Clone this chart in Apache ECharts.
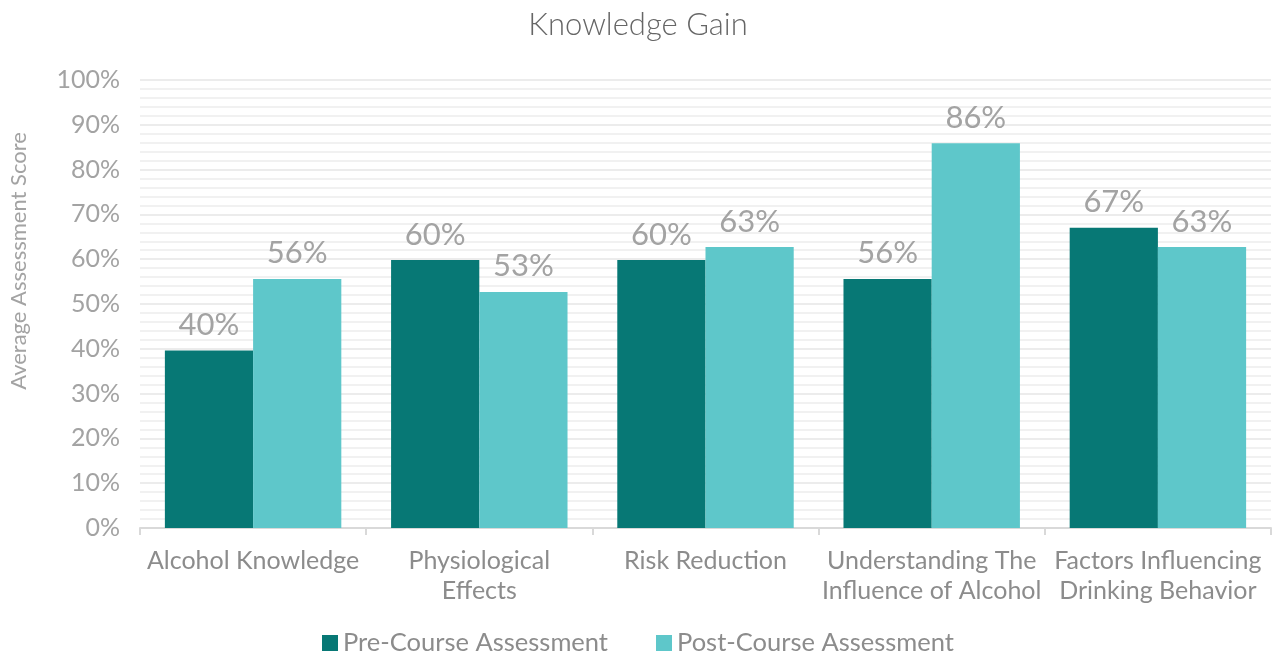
<!DOCTYPE html>
<html>
<head>
<meta charset="utf-8">
<script src="https://cdn.jsdelivr.net/npm/echarts@6/dist/echarts.min.js"></script>
<style>
html,body{margin:0;padding:0;background:#fff;}
#charts{width:1276px;height:662px;}
</style>
</head>
<body>
<div id="charts"></div>
<script>
// categories and values (percent)
var categories = ['Alcohol Knowledge', 'Physiological\nEffects', 'Risk Reduction', 'Understanding The\nInfluence of Alcohol', 'Factors Influencing\nDrinking Behavior'];
var preCourse = [39.6, 59.8, 59.8, 55.6, 67.0];
var postCourse = [55.6, 52.7, 62.7, 85.9, 62.7];
var seriesNames = ['Pre-Course Assessment', 'Post-Course Assessment'];

var grayText = '#a3a3a3';
var labelOption = {
	show: true,
	position: 'top',
	distance: 10,
	fontFamily: 'Lato',
	fontSize: 31,
	color: grayText,
	formatter: function (p) { return Math.round(p.value) + '%'; }
};

var charts = echarts.init(document.getElementById('charts'));
var option = {
	animation: false,
	textStyle: {fontFamily: 'Lato'},
	title: {
		text: 'Knowledge Gain',
		left: 'center',
		top: 4,
		textStyle: {fontFamily: 'Lato', fontWeight: 300, fontSize: 31, color: '#666'}
	},
	legend: {
		bottom: 1,
		left: 'center',
		itemWidth: 16,
		itemHeight: 16,
		itemGap: 48,
		icon: 'rect',
		textStyle: {fontFamily: 'Lato', fontSize: 25.5, color: '#8c8c8c'},
		data: seriesNames
	},
	grid: {left: 136, right: 5, top: 80, bottom: 134, containLabel: false},
	xAxis: {
		type: 'category',
		data: categories,
		axisLine: {lineStyle: {color: '#d9d9d9', width: 2}},
		axisTick: {show: true, length: 7, lineStyle: {color: '#d9d9d9', width: 2}},
		axisLabel: {fontFamily: 'Lato', fontSize: 25, color: '#8c8c8c', lineHeight: 30, margin: 18, interval: 0}
	},
	yAxis: {
		type: 'value',
		min: 0,
		max: 100,
		interval: 10,
		name: 'Average Assessment Score',
		nameLocation: 'middle',
		nameGap: 110,
		nameTextStyle: {fontFamily: 'Lato', fontSize: 22, color: grayText, padding: [0, 0, 0, 86]},
		axisLine: {show: false},
		axisTick: {show: false},
		axisLabel: {fontFamily: 'Lato', fontSize: 25, color: grayText, margin: 20, formatter: '{value}%'},
		splitLine: {lineStyle: {color: '#ececec', width: 2}},
		minorTick: {show: false, splitNumber: 5},
		minorSplitLine: {show: true, lineStyle: {color: '#f1f1f1', width: 2}}
	},
	series: [
		{
			name: seriesNames[0],
			type: 'bar',
			barGap: 0,
			barCategoryGap: '22%',
			itemStyle: {color: '#077875'},
			label: labelOption,
			data: preCourse
		},
		{
			name: seriesNames[1],
			type: 'bar',
			itemStyle: {color: '#5ec7ca'},
			label: labelOption,
			data: postCourse
		}
	]
};
charts.setOption(option);
</script>
</body>
</html>
